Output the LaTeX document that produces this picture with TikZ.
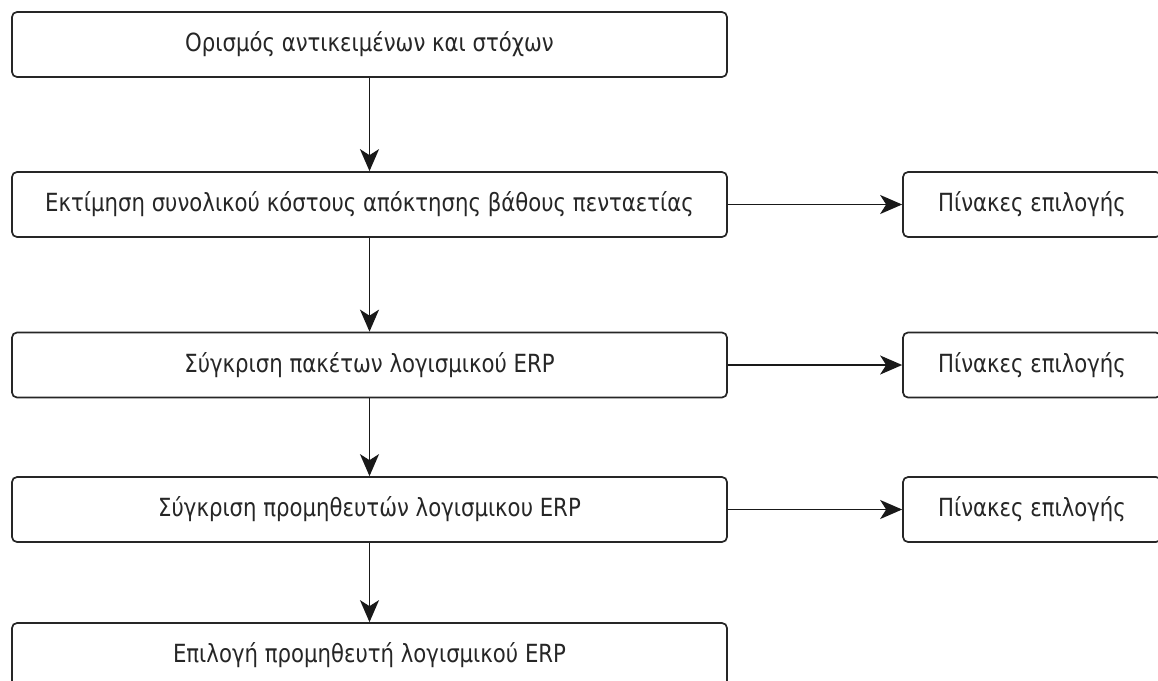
\documentclass[tikz,border=0pt]{standalone}
\usepackage{fontspec}
\setmainfont{DejaVu Sans}[FakeStretch=0.85]
\usetikzlibrary{arrows.meta}
\begin{document}
\begin{tikzpicture}[x=1pt,y=-1pt,
  stepbox/.style={draw=black!85, line width=1.7pt, rounded corners=5pt,
    minimum height=65pt, inner sep=0pt, font=\fontsize{25}{28}\selectfont, text=black!85},
  mainbox/.style={stepbox, minimum width=715pt},
  sidebox/.style={stepbox, minimum width=258pt},
  flow/.style={line width=1.8pt, draw=black!90, -{Stealth[length=22pt,width=19pt,inset=6pt]}}]
\useasboundingbox (0,0) rectangle (1158,680);
\clip (0,0) rectangle (1158,680);
\fill[white] (0,0) rectangle (1158,680);
% main flow column
\node[mainbox] (s1) at (369.5,44.5) {Ορισμός αντικειμένων και στόχων};
\node[mainbox] (s2) at (369.5,204.5) {Εκτίμηση συνολικού κόστους απόκτησης βάθους πενταετίας};
\node[mainbox] (s3) at (369.5,365) {Σύγκριση πακέτων λογισμικού ERP};
\node[mainbox] (s4) at (369.5,509.5) {Σύγκριση προμηθευτών λογισμικου ERP};
\node[mainbox] (s5) at (369.5,655.5) {Επιλογή προμηθευτή λογισμικού ERP};
% selection tables on the right
\node[sidebox] (t2) at (1032,204.5) {Πίνακες επιλογής};
\node[sidebox] (t3) at (1032,365) {Πίνακες επιλογής};
\node[sidebox] (t4) at (1032,509.5) {Πίνακες επιλογής};
% connectors
\draw[flow] (s1) -- (s2);
\draw[flow] (s2) -- (s3);
\draw[flow] (s3) -- (s4);
\draw[flow] (s4) -- (s5);
\draw[flow] (s2) -- (t2);
\draw[flow] (s3) -- (t3);
\draw[flow] (s4) -- (t4);
\end{tikzpicture}
\end{document}
